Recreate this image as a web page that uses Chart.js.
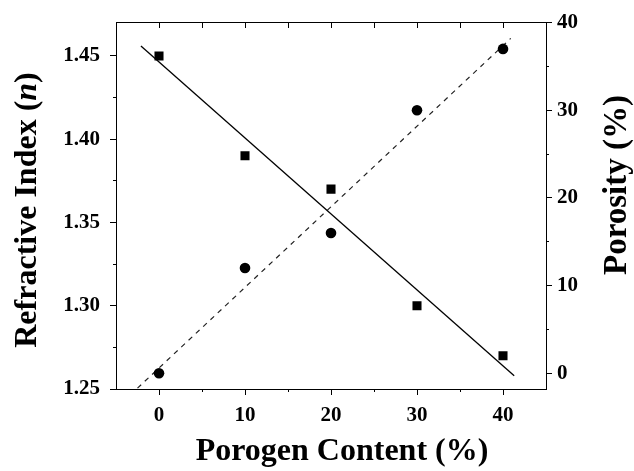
<!DOCTYPE html>
<html>
<head>
<meta charset="utf-8">
<script src="https://cdn.jsdelivr.net/npm/chart.js@4.4.0/dist/chart.umd.min.js"></script>
<style>
  html, body { margin: 0; padding: 0; background: #fff; }
</style>
</head>
<body>
<canvas id="porosityChart" width="634" height="471"></canvas>
<script>
// measured values
const porogen = [0, 10, 20, 30, 40];
const refractiveIndex = [1.45, 1.39, 1.37, 1.30, 1.27];
const porosity = [0, 12, 16, 30, 37];

// fitted lines, end points
const indexFitX = [-2.1, 41.3];
const indexFitY = [1.456, 1.258];
const porosityFitX = [-2.5, 40.9];
const porosityFitY = [-1.7, 38.2];

// axis ticks
const porogenTicks = [0, 10, 20, 30, 40];
const porogenMinorTicks = [5, 15, 25, 35];
const porogenTopTicks = [0, 5, 10, 15, 20, 25, 30, 35, 40];
const indexTicks = [1.25, 1.30, 1.35, 1.40, 1.45];
const indexMinorTicks = [1.275, 1.325, 1.375, 1.425];
const porosityTicks = [0, 10, 20, 30, 40];
const porosityMinorTicks = [5, 15, 25, 35];

const xTitle = 'Porogen Content (%)';
const leftTitle = ['Refractive Index (', 'n', ')'];
const rightTitle = 'Porosity (%)';

const FONT = '"Liberation Serif", "Times New Roman", serif';
const tickFont = { family: FONT, size: 21, weight: 'bold' };

const toPoints = (xs, ys) => xs.map((x, i) => ({ x: x, y: ys[i] }));
const setTicks = list => scale => { scale.ticks = list.map(v => ({ value: v })); };

const axisTitles = {
    id: 'axisTitles',
    afterDraw(chart) {
        const c = chart.ctx;
        c.save();
        c.fillStyle = '#000';
        c.textBaseline = 'middle';

        // bottom title
        c.font = 'bold 32px ' + FONT;
        c.textAlign = 'center';
        c.fillText(xTitle, 342, 452);

        // right title
        c.save();
        c.font = 'bold 33px ' + FONT;
        c.translate(617, 185);
        c.rotate(-Math.PI / 2);
        c.fillText(rightTitle, 0, 0);
        c.restore();

        // left title, the n is italic
        const fonts = ['bold 32px ' + FONT, 'italic bold 32px ' + FONT, 'bold 32px ' + FONT];
        let total = 0;
        const widths = leftTitle.map((t, i) => {
            c.font = fonts[i];
            const w = c.measureText(t).width;
            total += w;
            return w;
        });
        c.save();
        c.translate(28, 210);
        c.rotate(-Math.PI / 2);
        c.textAlign = 'left';
        let pos = -total / 2;
        leftTitle.forEach((t, i) => {
            c.font = fonts[i];
            c.fillText(t, pos, 0);
            pos += widths[i];
        });
        c.restore();
        c.restore();
    }
};

const ctx = document.getElementById('porosityChart').getContext('2d');
const porosityChart = new Chart(ctx, {
    type: 'scatter',
    data: {
        datasets: [
            {
                label: 'Refractive index',
                data: toPoints(porogen, refractiveIndex),
                yAxisID: 'y',
                pointStyle: 'rect',
                pointRadius: 6.4,
                backgroundColor: '#000',
                borderColor: '#000',
                borderWidth: 0
            },
            {
                label: 'Porosity',
                data: toPoints(porogen, porosity),
                yAxisID: 'y2',
                pointStyle: 'circle',
                pointRadius: 5.3,
                backgroundColor: '#000',
                borderColor: '#000',
                borderWidth: 0
            },
            {
                label: 'Index fit',
                data: toPoints(indexFitX, indexFitY),
                yAxisID: 'y',
                showLine: true,
                pointRadius: 0,
                borderColor: '#000',
                borderWidth: 1.3
            },
            {
                label: 'Porosity fit',
                data: toPoints(porosityFitX, porosityFitY),
                yAxisID: 'y2',
                showLine: true,
                pointRadius: 0,
                borderColor: '#222',
                borderWidth: 1.2,
                borderDash: [5, 5]
            }
        ]
    },
    options: {
        responsive: false,
        animation: false,
        layout: { padding: { top: 18, left: 0, right: 0, bottom: 0 } },
        plugins: {
            legend: { display: false },
            tooltip: { enabled: false }
        },
        scales: {
            x: {
                type: 'linear',
                position: 'bottom',
                weight: 1,
                min: -5,
                max: 45,
                afterBuildTicks: setTicks(porogenTicks),
                afterFit: s => { s.height = 82; },
                border: { display: true, color: '#000', width: 1 },
                grid: { drawOnChartArea: false, tickLength: 6, color: '#000' },
                ticks: { color: '#000', font: tickFont, padding: 8, maxRotation: 0 }
            },
            xMinor: {
                type: 'linear',
                position: 'bottom',
                weight: 0,
                min: -5,
                max: 45,
                afterBuildTicks: setTicks(porogenMinorTicks),
                afterFit: s => { s.height = 0; },
                border: { display: false },
                grid: { drawOnChartArea: false, tickLength: 3, color: '#000' },
                ticks: { display: false }
            },
            // top frame with inward ticks
            xTop: {
                type: 'linear',
                axis: 'x',
                position: { y: 1.47 },
                min: -5,
                max: 45,
                afterBuildTicks: setTicks(porogenTopTicks),
                border: { display: true, color: '#000', width: 1 },
                grid: { drawOnChartArea: false, tickLength: 5, color: '#000' },
                ticks: { display: false }
            },
            y: {
                type: 'linear',
                position: 'left',
                weight: 1,
                min: 1.25,
                max: 1.47,
                afterBuildTicks: setTicks(indexTicks),
                afterFit: s => { s.width = 116; },
                border: { display: true, color: '#000', width: 1 },
                grid: { drawOnChartArea: false, tickLength: 6, color: '#000' },
                ticks: {
                    color: '#000',
                    font: tickFont,
                    padding: 10,
                    callback: v => v.toFixed(2)
                }
            },
            yMinor: {
                type: 'linear',
                position: 'left',
                weight: 0,
                min: 1.25,
                max: 1.47,
                afterBuildTicks: setTicks(indexMinorTicks),
                afterFit: s => { s.width = 0; },
                border: { display: false },
                grid: { drawOnChartArea: false, tickLength: 3, color: '#000' },
                ticks: { display: false }
            },
            y2: {
                type: 'linear',
                position: 'right',
                weight: 1,
                min: -1.8,
                max: 40,
                afterBuildTicks: setTicks(porosityTicks),
                afterFit: s => { s.width = 88; },
                border: { display: true, color: '#000', width: 1 },
                grid: { drawOnChartArea: false, tickLength: 6, color: '#000' },
                ticks: { color: '#000', font: tickFont, padding: 5 }
            },
            y2Minor: {
                type: 'linear',
                position: 'right',
                weight: 0,
                min: -1.8,
                max: 40,
                afterBuildTicks: setTicks(porosityMinorTicks),
                afterFit: s => { s.width = 0; },
                border: { display: false },
                grid: { drawOnChartArea: false, tickLength: 3, color: '#000' },
                ticks: { display: false }
            }
        }
    },
    plugins: [axisTitles]
});
</script>
</body>
</html>
